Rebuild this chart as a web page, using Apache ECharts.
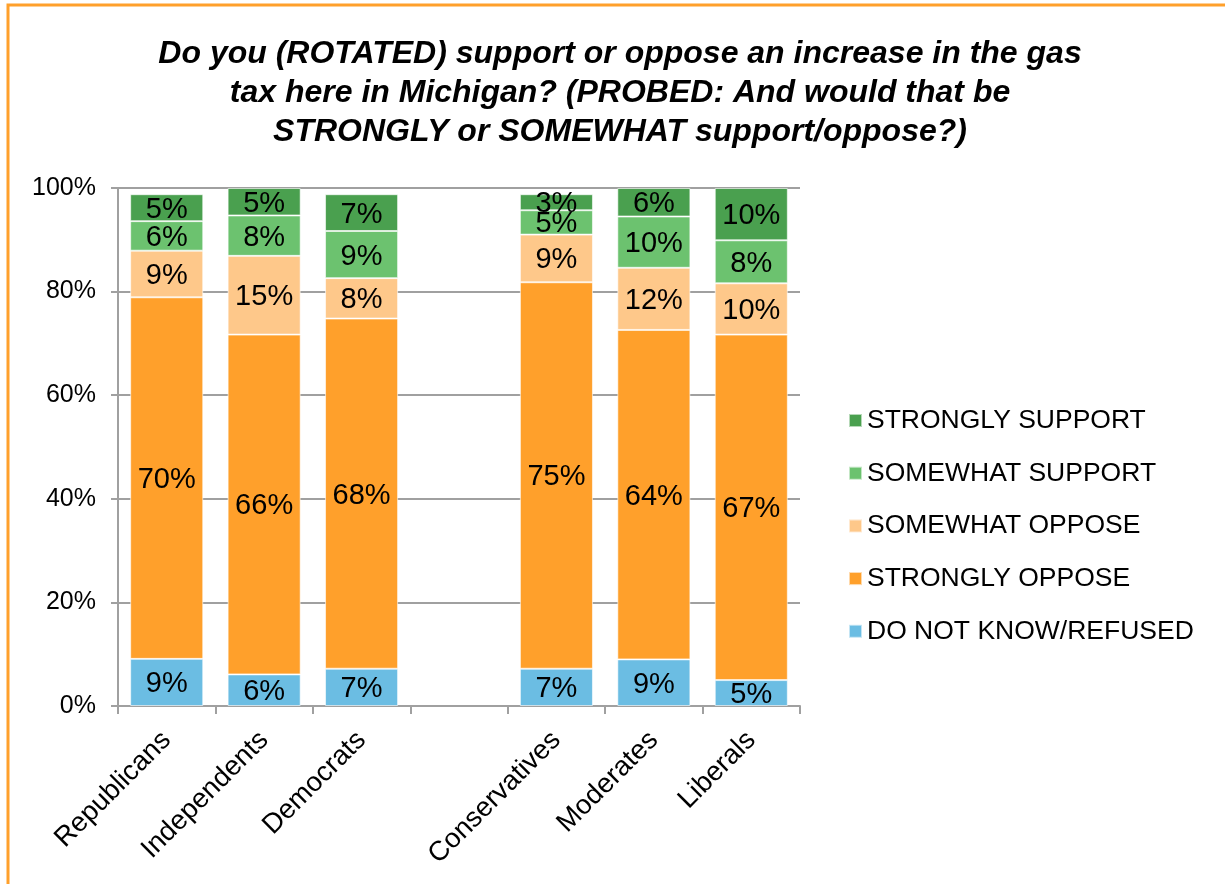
<!DOCTYPE html>
<html>
<head>
<meta charset="utf-8">
<script src="https://cdn.jsdelivr.net/npm/echarts@6/dist/echarts.min.js"></script>
<style>html,body{margin:0;padding:0;background:#fff;}#c{width:1225px;height:884px;}</style>
</head>
<body>
<div id="c"></div>
<script>
const categories = ['Republicans', 'Independents', 'Democrats', '', 'Conservatives', 'Moderates', 'Liberals'];
const seriesNames = ['DO NOT KNOW/REFUSED', 'STRONGLY OPPOSE', 'SOMEWHAT OPPOSE', 'SOMEWHAT SUPPORT', 'STRONGLY SUPPORT'];
const dontKnow        = [9.1, 6.1, 7.2, null, 7.2, 9.0, 5.0];
const stronglyOppose  = [69.8, 65.6, 67.6, null, 74.6, 63.6, 66.7];
const somewhatOppose  = [9.0, 15.2, 7.8, null, 9.2, 12.0, 9.9];
const somewhatSupport = [5.7, 7.8, 9.1, null, 4.7, 9.9, 8.3];
const stronglySupport = [5.2, 5.3, 7.1, null, 3.1, 5.5, 10.1];
const yTicks = [0, 20, 40, 60, 80, 100];
const colors = ['#6bbde3', '#ffa02b', '#fec88a', '#6cc26f', '#4aa04f'];

const font = 'Liberation Sans, Arial, sans-serif';
const values = [dontKnow, stronglyOppose, somewhatOppose, somewhatSupport, stronglySupport];

const chart = echarts.init(document.getElementById('c'), null, {renderer: 'canvas'});
chart.setOption({
  animation: false,
  textStyle: {fontFamily: font},
  title: {
    text: 'Do you (ROTATED) support or oppose an increase in the gas\ntax here in Michigan? (PROBED: And would that be\nSTRONGLY or SOMEWHAT support/oppose?)',
    left: 620,
    top: 35,
    padding: 0,
    textAlign: 'center',
    textStyle: {fontFamily: font, fontSize: 32, fontWeight: 'bold', fontStyle: 'italic', lineHeight: 39, color: '#000'}
  },
  graphic: [{
    type: 'rect', silent: true,
    shape: {x: 8, y: 5, width: 1400, height: 1000},
    style: {fill: 'none', stroke: '#ffa02b', lineWidth: 3}
  }],
  legend: {
    orient: 'vertical',
    left: 848,
    top: 407,
    padding: 0,
    icon: 'rect',
    itemWidth: 13,
    itemHeight: 13,
    itemGap: 25.7,
    data: seriesNames.slice().reverse(),
    textStyle: {fontFamily: font, fontSize: 26.5, color: '#000', lineHeight: 26}
  },
  grid: {left: 118, right: 425, top: 188, bottom: 178},
  xAxis: {
    type: 'category',
    data: categories,
    axisLine: {lineStyle: {color: '#a0a0a0', width: 2}},
    axisTick: {show: true, length: 8, lineStyle: {color: '#a0a0a0', width: 2}},
    axisLabel: {rotate: 45, fontSize: 27.5, color: '#000', margin: 30, fontFamily: font}
  },
  yAxis: {
    type: 'value',
    min: 0, max: 100, interval: 20,
    axisLine: {show: true, lineStyle: {color: '#a0a0a0', width: 2}},
    axisTick: {show: true, length: 7, lineStyle: {color: '#a0a0a0', width: 2}},
    splitLine: {lineStyle: {color: '#a0a0a0', width: 2}},
    axisLabel: {formatter: v => yTicks.includes(v) ? v + '%' : '', fontSize: 25, color: '#000', margin: 22, fontFamily: font}
  },
  series: seriesNames.map((name, i) => ({
    name,
    type: 'bar',
    stack: 'total',
    barCategoryGap: '25%',
    data: values[i],
    itemStyle: {color: colors[i], borderColor: 'rgba(255,255,255,0.6)', borderWidth: 1},
    label: {
      show: true, position: 'inside', color: '#000', fontSize: 29, fontFamily: font, offset: [0, 2],
      formatter: p => p.value == null ? '' : Math.round(p.value) + '%'
    }
  }))
});
</script>
</body>
</html>
